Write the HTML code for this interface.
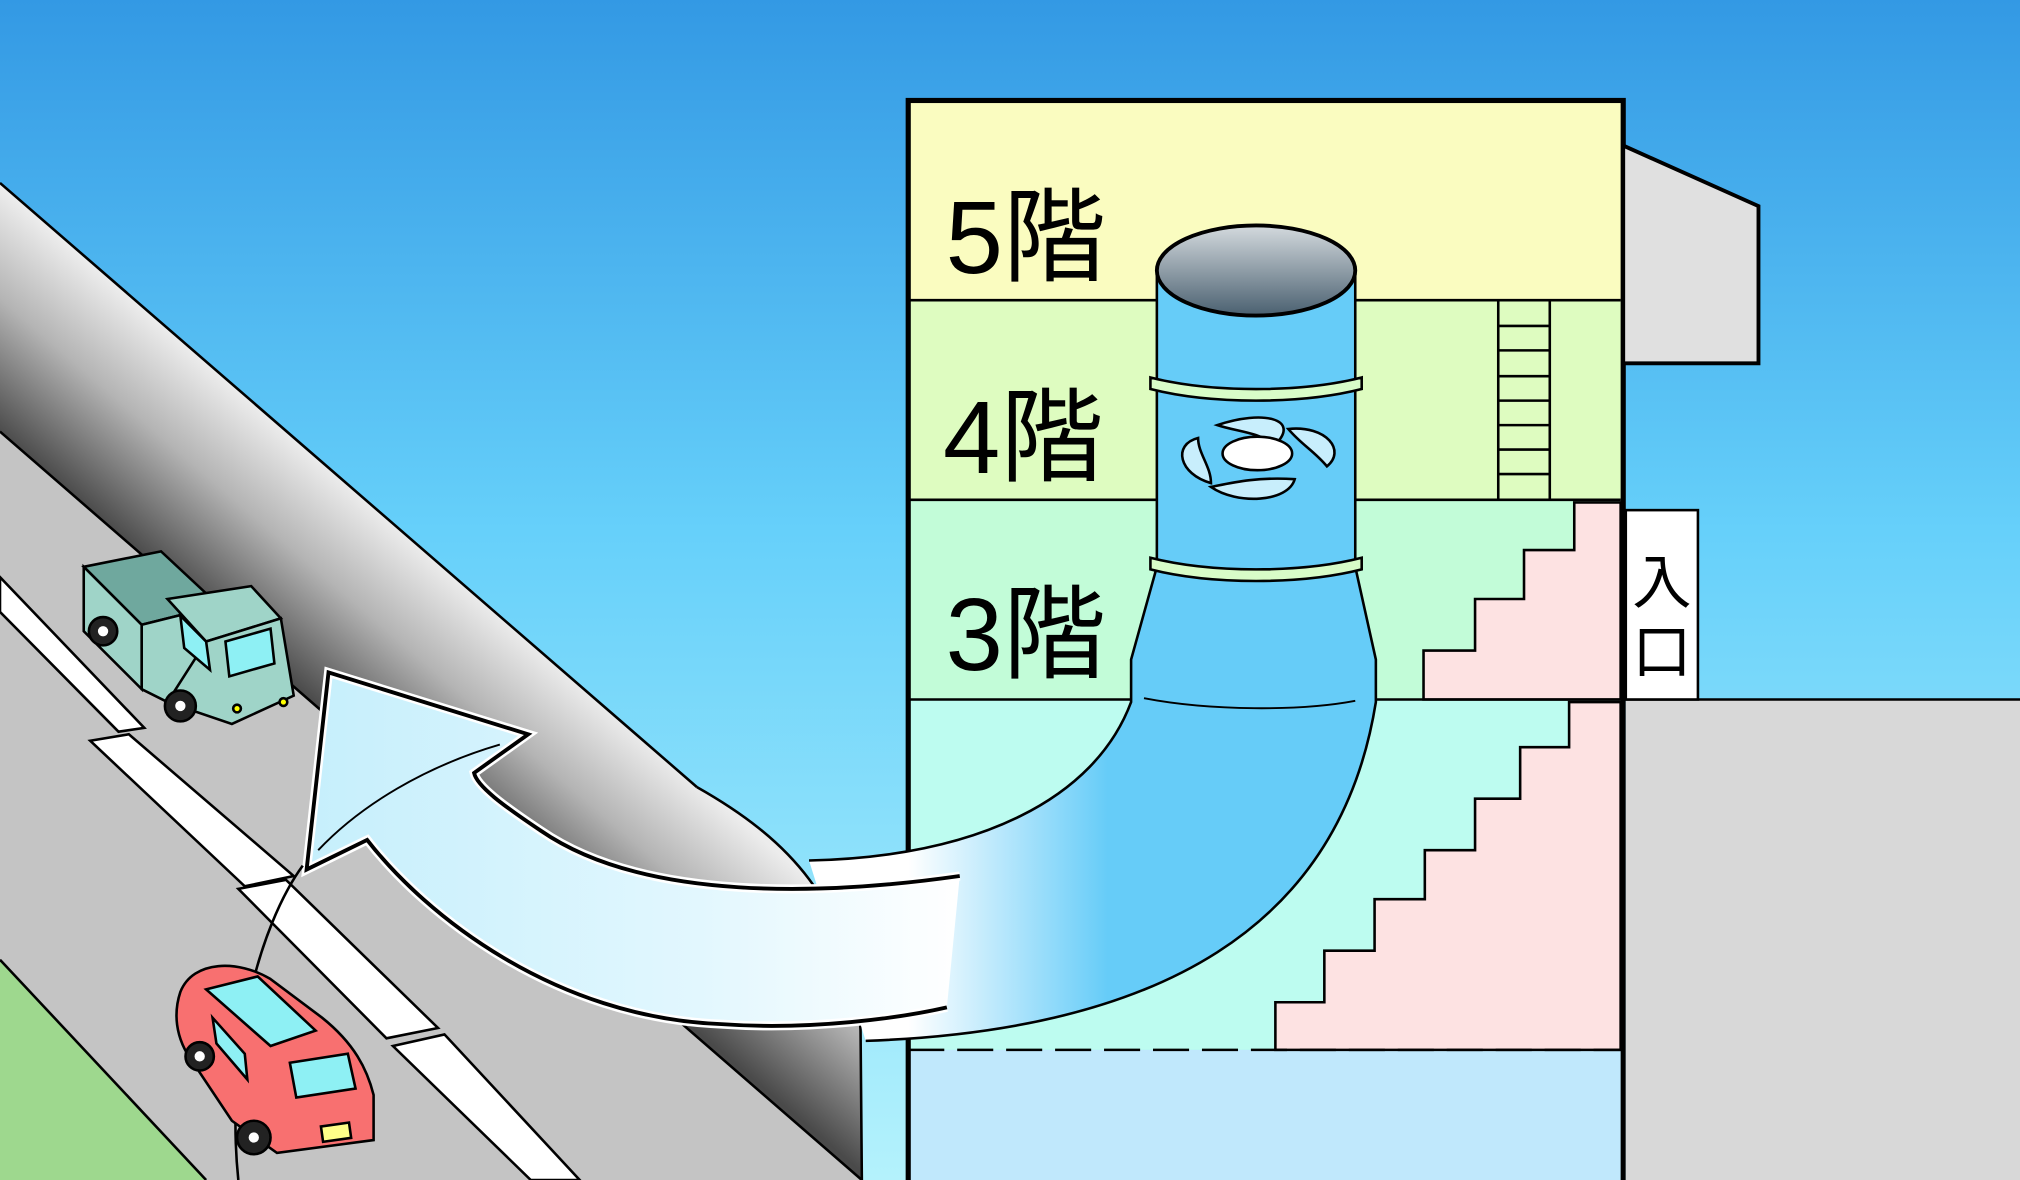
<!DOCTYPE html>
<html><head><meta charset="utf-8"><style>
html,body{margin:0;padding:0;overflow:hidden}
svg{display:block}
text{font-family:"Liberation Sans","Noto Sans CJK JP",sans-serif}
</style></head><body>
<svg width="2020" height="1180" viewBox="0 0 1568 916" preserveAspectRatio="none" xmlns="http://www.w3.org/2000/svg">
<defs>
<linearGradient id="sky" x1="0" y1="0" x2="0" y2="1">
<stop offset="0" stop-color="#3399e4"/><stop offset="0.45" stop-color="#66d0fa"/><stop offset="1" stop-color="#b4f2fc"/>
</linearGradient>
<linearGradient id="wall" gradientUnits="userSpaceOnUse" x1="300" y1="402" x2="205" y2="513">
<stop offset="0" stop-color="#ececec"/><stop offset="0.45" stop-color="#b4b4b4"/><stop offset="1" stop-color="#4a4a4a"/>
</linearGradient>
<linearGradient id="arrow" gradientUnits="userSpaceOnUse" x1="240" y1="0" x2="745" y2="0">
<stop offset="0" stop-color="#c6effc"/><stop offset="0.6" stop-color="#e2f7fe"/><stop offset="1" stop-color="#ffffff"/>
</linearGradient>
<linearGradient id="pipe" gradientUnits="userSpaceOnUse" x1="705" y1="0" x2="860" y2="0">
<stop offset="0" stop-color="#ffffff"/><stop offset="1" stop-color="#66ccf8"/>
</linearGradient>
<linearGradient id="hole" x1="0" y1="0" x2="0" y2="1">
<stop offset="0" stop-color="#d4dade"/><stop offset="1" stop-color="#4a6070"/>
</linearGradient>
</defs>
<rect width="1568" height="916" fill="url(#sky)"/>
<!-- road -->
<polygon points="0,335 669,916 0,916" fill="#c4c4c4"/>
<polygon points="0,745 160,916 0,916" fill="#9ed88e"/>
<line x1="0" y1="745" x2="160" y2="916" stroke="#000" stroke-width="2"/>
<g fill="#fff" stroke="#000" stroke-width="2">
<polygon points="0,448 0,475 92,568 112,565"/>
<polygon points="70,575 100,570 228,680 190,688"/>
<polygon points="185,690 222,683 340,798 300,806"/>
<polygon points="305,812 345,803 450,916 412,916"/>
</g>
<!-- wall -->
<path d="M0,142 L541,611 C610,650 662,700 668,800 L669,916 L0,335 Z" fill="url(#wall)"/>
<line x1="0" y1="142" x2="541" y2="611" stroke="#000" stroke-width="2"/>
<line x1="0" y1="335" x2="669" y2="916" stroke="#000" stroke-width="2"/>
<path d="M541,611 C610,650 662,700 668,800 L669,916" fill="none" stroke="#000" stroke-width="2"/>
<!-- building -->
<rect x="705" y="78" width="555" height="155" fill="#fafcc0"/>
<rect x="705" y="233" width="555" height="155" fill="#defcc0"/>
<rect x="705" y="388" width="555" height="155" fill="#c2fcd8"/>
<rect x="705" y="543" width="555" height="272" fill="#bdfcf0"/>
<rect x="705" y="815" width="555" height="101" fill="#c0e8fc"/>
<polygon points="1222,390 1258,390 1258,543 1105,543 1105,505 1145,505 1145,465 1183,465 1183,427 1222,427" fill="#fde2e2" stroke="#000" stroke-width="2"/>
<polygon points="1218,545 1258,545 1258,815 990,815 990,778 1028,778 1028,738 1067,738 1067,698 1106,698 1106,660 1145,660 1145,620 1180,620 1180,580 1218,580" fill="#fde2e2" stroke="#000" stroke-width="2"/>
<g stroke="#000" stroke-width="2">
<line x1="1163" y1="233" x2="1163" y2="388"/><line x1="1203" y1="233" x2="1203" y2="388"/>
<line x1="1163" y1="253" x2="1203" y2="253"/><line x1="1163" y1="272" x2="1203" y2="272"/><line x1="1163" y1="292" x2="1203" y2="292"/><line x1="1163" y1="311" x2="1203" y2="311"/><line x1="1163" y1="330" x2="1203" y2="330"/><line x1="1163" y1="349" x2="1203" y2="349"/><line x1="1163" y1="368" x2="1203" y2="368"/>
</g>
<g stroke="#000" stroke-width="2" fill="none">
<line x1="705" y1="233" x2="1258" y2="233"/><line x1="705" y1="388" x2="1258" y2="388"/><line x1="705" y1="543" x2="1258" y2="543"/>
<line x1="705" y1="815" x2="1258" y2="815" stroke-dasharray="28,10"/>
</g>
<rect x="705" y="78" width="555" height="840" fill="none" stroke="#000" stroke-width="4"/>
<polygon points="1260,113 1365,160 1365,282 1260,282" fill="#e0e0e0" stroke="#000" stroke-width="3"/>
<rect x="1262" y="543" width="306" height="373" fill="#d8d8d8"/>
<line x1="1260" y1="543" x2="1568" y2="543" stroke="#000" stroke-width="2"/>
<rect x="1262" y="396" width="56" height="147" fill="#fff" stroke="#000" stroke-width="2"/>
<text x="1290" y="468" font-size="46" text-anchor="middle">入</text>
<text x="1290" y="522" font-size="46" text-anchor="middle">口</text>
<text x="734" y="212" font-size="80">5階</text>
<text x="732" y="367" font-size="80">4階</text>
<text x="734" y="520" font-size="80">3階</text>
<!-- pipe -->
<path d="M898,210 L898,440 L878,512 L878,545 C850,620 760,665 628,668 L672,808 C900,800 1040,720 1068,545 L1068,512 L1052,440 L1052,210 Z" fill="url(#pipe)"/>
<path d="M898,210 L898,440 L878,512 L878,545 C850,620 760,665 628,668 M672,808 C900,800 1040,720 1068,545 L1068,512 L1052,440 L1052,210" fill="none" stroke="#000" stroke-width="2"/>
<path d="M893,293 C940,305 1010,305 1057,293 L1057,302 C1010,314 940,314 893,302 Z" fill="#d8fcc8" stroke="#000" stroke-width="2"/>
<path d="M893,433 C940,445 1010,445 1057,433 L1057,442 C1010,454 940,454 893,442 Z" fill="#d8fcc8" stroke="#000" stroke-width="2"/>
<path d="M888,542 C940,552 1010,552 1052,544" fill="none" stroke="#000" stroke-width="1.5"/>
<ellipse cx="975" cy="210" rx="77" ry="35" fill="url(#hole)" stroke="#000" stroke-width="3"/>
<g stroke="#000" stroke-width="2" fill="#c8eefc">
<path d="M945,330 C980,318 1010,325 990,345 C975,335 960,335 945,330Z"/>
<path d="M1000,333 C1030,330 1045,350 1030,362 C1020,350 1010,345 1000,333Z"/>
<path d="M1005,372 C1000,390 960,392 940,378 C955,375 975,370 1005,372Z"/>
<path d="M940,375 C915,368 910,345 930,340 C930,352 940,362 940,375Z"/>
</g>
<ellipse cx="976" cy="352" rx="27" ry="13" fill="#fff" stroke="#000" stroke-width="2"/>
<!-- big arrow -->
<path d="M745,680 C640,695 500,700 420,645 C390,625 370,610 368,600 L410,570 L255,522 L238,675 L285,652 C330,710 430,790 560,795 C630,800 700,790 735,782 Z" fill="url(#arrow)"/>
<path d="M745,680 C640,695 500,700 420,645 C390,625 370,610 368,600 L410,570 L255,522 L238,675 L285,652 C330,710 430,790 560,795 C630,800 700,790 735,782" fill="none" stroke="#fff" stroke-width="7"/>
<path d="M745,680 C640,695 500,700 420,645 C390,625 370,610 368,600 L410,570 L255,522 L238,675 L285,652 C330,710 430,790 560,795 C630,800 700,790 735,782" fill="none" stroke="#000" stroke-width="3"/>
<path d="M388,578 C330,595 280,625 247,660" fill="none" stroke="#000" stroke-width="1.5"/>
<path d="M235,672 C200,720 175,820 185,916" fill="none" stroke="#000" stroke-width="2"/>
<!-- truck -->
<g stroke="#000" stroke-width="2">
<polygon points="65,440 125,428 170,470 110,485" fill="#6fa89e"/>
<polygon points="65,440 110,485 110,535 65,490" fill="#9fd4c8"/>
<polygon points="110,485 170,470 170,510 130,545 110,535" fill="#9fd4c8"/>
<polygon points="130,465 195,455 218,480 160,498" fill="#9fd4c8"/>
<polygon points="160,498 218,480 228,540 180,562 130,545" fill="#9fd4c8"/>
<polygon points="175,498 210,488 213,515 178,525" fill="#8ef0f4"/>
<polygon points="140,478 160,498 163,520 143,503" fill="#8ef0f4"/>
<circle cx="80" cy="490" r="11" fill="#222"/><circle cx="140" cy="548" r="12" fill="#222"/>
<circle cx="184" cy="550" r="3" fill="#ff0"/><circle cx="220" cy="545" r="3" fill="#ff0"/>
</g>
<circle cx="80" cy="490" r="4" fill="#fff"/><circle cx="140" cy="548" r="4" fill="#fff"/>
<!-- red car -->
<g stroke="#000" stroke-width="2">
<path d="M140,770 C150,745 185,745 210,760 L250,790 C275,810 285,830 290,850 L290,885 L215,895 L180,870 L150,825 C135,805 135,785 140,770 Z" fill="#f87070"/>
<polygon points="160,768 200,758 245,800 210,812" fill="#8ef0f4"/>
<polygon points="225,825 270,818 276,845 230,852" fill="#8ef0f4"/>
<polygon points="165,790 190,818 192,838 168,810" fill="#8ef0f4"/>
<rect x="250" y="873" width="22" height="12" fill="#ff8" transform="rotate(-8 260 880)"/>
<circle cx="155" cy="820" r="11" fill="#222"/><circle cx="197" cy="883" r="13" fill="#222"/>
</g>
<circle cx="155" cy="820" r="4" fill="#fff"/><circle cx="197" cy="883" r="4" fill="#fff"/>
</svg>
</body></html>
